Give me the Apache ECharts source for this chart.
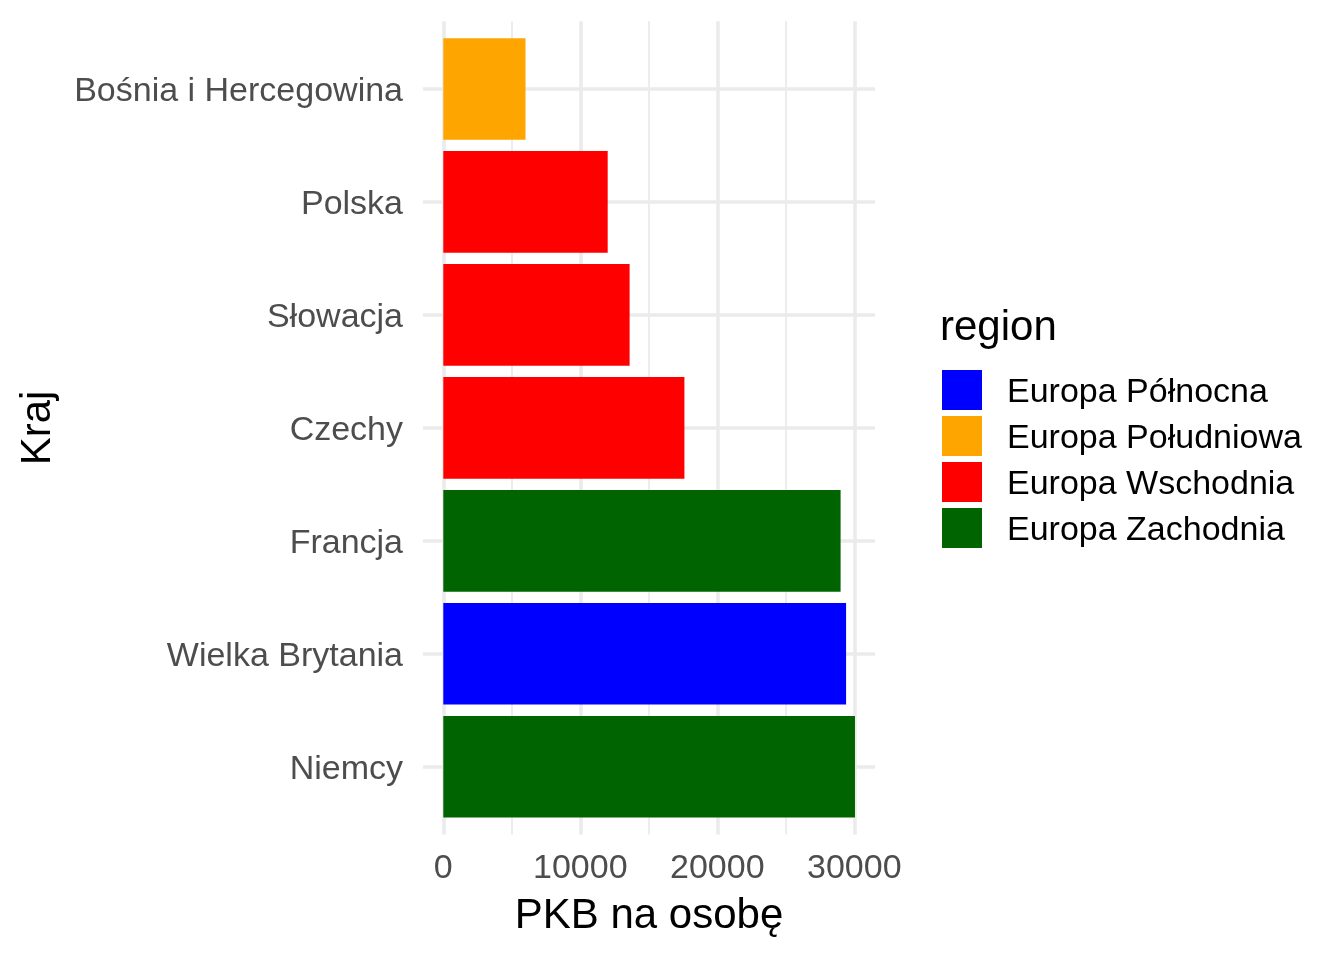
<!DOCTYPE html>
<html>
<head>
<meta charset="utf-8">
<script src="https://cdn.jsdelivr.net/npm/echarts@6/dist/echarts.min.js"></script>
<style>
html,body{margin:0;padding:0;background:#fff;}
#chart{width:1344px;height:960px;}
</style>
</head>
<body>
<div id="chart"></div>
<script>
const categories = ['Bośnia i Hercegowina','Polska','Słowacja','Czechy','Francja','Wielka Brytania','Niemcy'];
const gdpPerCapita = [6000, 12000, 13600, 17600, 29000, 29400, 30050];
const regionOfCountry = ['Europa Południowa','Europa Wschodnia','Europa Wschodnia','Europa Wschodnia','Europa Zachodnia','Europa Północna','Europa Zachodnia'];
const regions = ['Europa Północna','Europa Południowa','Europa Wschodnia','Europa Zachodnia'];
const regionColors = ['#0000FF','#FFA500','#FF0000','#006400'];
const xTickMin = 0, xTickMax = 30000, xTickInterval = 10000;

const FONT = "'Liberation Sans', Arial, Helvetica, sans-serif";
const GRID_COLOR = '#EBEBEB';

const chart = echarts.init(document.getElementById('chart'), null, {renderer: 'canvas'});

const barSeries = regions.map((r, k) => ({
  type: 'bar',
  name: r,
  xAxisIndex: 0,
  yAxisIndex: 0,
  data: gdpPerCapita.map((v, i) => regionOfCountry[i] === r ? v : null),
  itemStyle: {color: regionColors[k]},
  barGap: '-100%',
  barCategoryGap: '10%',
  clip: false,
  silent: true,
  z: 5
}));

const option = {
  animation: false,
  backgroundColor: '#ffffff',
  textStyle: {fontFamily: FONT},
  grid: [
    // bars
    {left: 443.3, right: 469, top: 32.5, bottom: 136.8},
    // vertical grid lines + x labels
    {left: 443.3, right: 489.7, top: 21.2, bottom: 125.5},
    // horizontal grid lines
    {left: 423, right: 469, top: 89, bottom: 193.3},
    // category labels (text sits slightly below band centre, as in the reference)
    {left: 423, right: 469, top: 35.3, bottom: 134}
  ],
  xAxis: [
    {gridIndex: 0, type: 'value', min: 0, max: 31511, show: false},
    {
      gridIndex: 1, type: 'value', min: xTickMin, max: xTickMax, interval: xTickInterval,
      axisLine: {show: false}, axisTick: {show: false},
      axisLabel: {color: '#4D4D4D', fontSize: 34, fontFamily: FONT, margin: 17,
        formatter: v => String(v)},
      splitLine: {show: true, lineStyle: {color: GRID_COLOR, width: 3.6}},
      minorTick: {show: false, splitNumber: 2},
      minorSplitLine: {show: true, lineStyle: {color: GRID_COLOR, width: 1.8}}
    },
    {gridIndex: 2, type: 'value', min: 0, max: 1, show: false},
    {gridIndex: 3, type: 'value', min: 0, max: 1, show: false}
  ],
  yAxis: [
    {
      gridIndex: 0, type: 'category', data: categories, inverse: true,
      axisLine: {show: false}, axisTick: {show: false}, axisLabel: {show: false},
      splitLine: {show: false}
    },
    {gridIndex: 1, type: 'value', min: 0, max: 1, show: false, splitLine: {show: false}},
    {
      gridIndex: 2, type: 'value', min: 0, max: categories.length - 1, interval: 1,
      axisLine: {show: false}, axisTick: {show: false}, axisLabel: {show: false},
      splitLine: {show: true, lineStyle: {color: GRID_COLOR, width: 3.6}}
    },
    {
      gridIndex: 3, type: 'category', data: categories, inverse: true,
      axisLine: {show: false}, axisTick: {show: false},
      axisLabel: {color: '#4D4D4D', fontSize: 34, fontFamily: FONT, margin: 20},
      splitLine: {show: false}
    }
  ],
  legend: {
    orient: 'vertical',
    left: 942,
    top: 370,
    itemWidth: 40,
    itemHeight: 40,
    itemGap: 6,
    icon: 'rect',
    padding: 0,
    data: regions,
    selectedMode: false,
    formatter: name => '{t|' + name + '}',
    textStyle: {
      color: '#000000', fontSize: 34, fontFamily: FONT, padding: [0, 0, 0, 20],
      rich: {t: {color: '#000000', fontSize: 34, fontFamily: FONT, padding: [5, 0, 0, 0]}}
    }
  },
  graphic: [
    {
      type: 'text', x: 649, y: 916,
      style: {text: 'PKB na osobę', fill: '#000', fontSize: 42, fontFamily: FONT, textAlign: 'center', textVerticalAlign: 'middle'}
    },
    {
      type: 'text', x: 38, y: 428, rotation: Math.PI / 2,
      style: {text: 'Kraj', fill: '#000', fontSize: 42, fontFamily: FONT, textAlign: 'center', textVerticalAlign: 'middle'}
    },
    {
      type: 'text', x: 940, y: 328.5,
      style: {text: 'region', fill: '#000', fontSize: 42, fontFamily: FONT, textAlign: 'left', textVerticalAlign: 'middle'}
    }
  ],
  series: barSeries
};

chart.setOption(option);
</script>
</body>
</html>
